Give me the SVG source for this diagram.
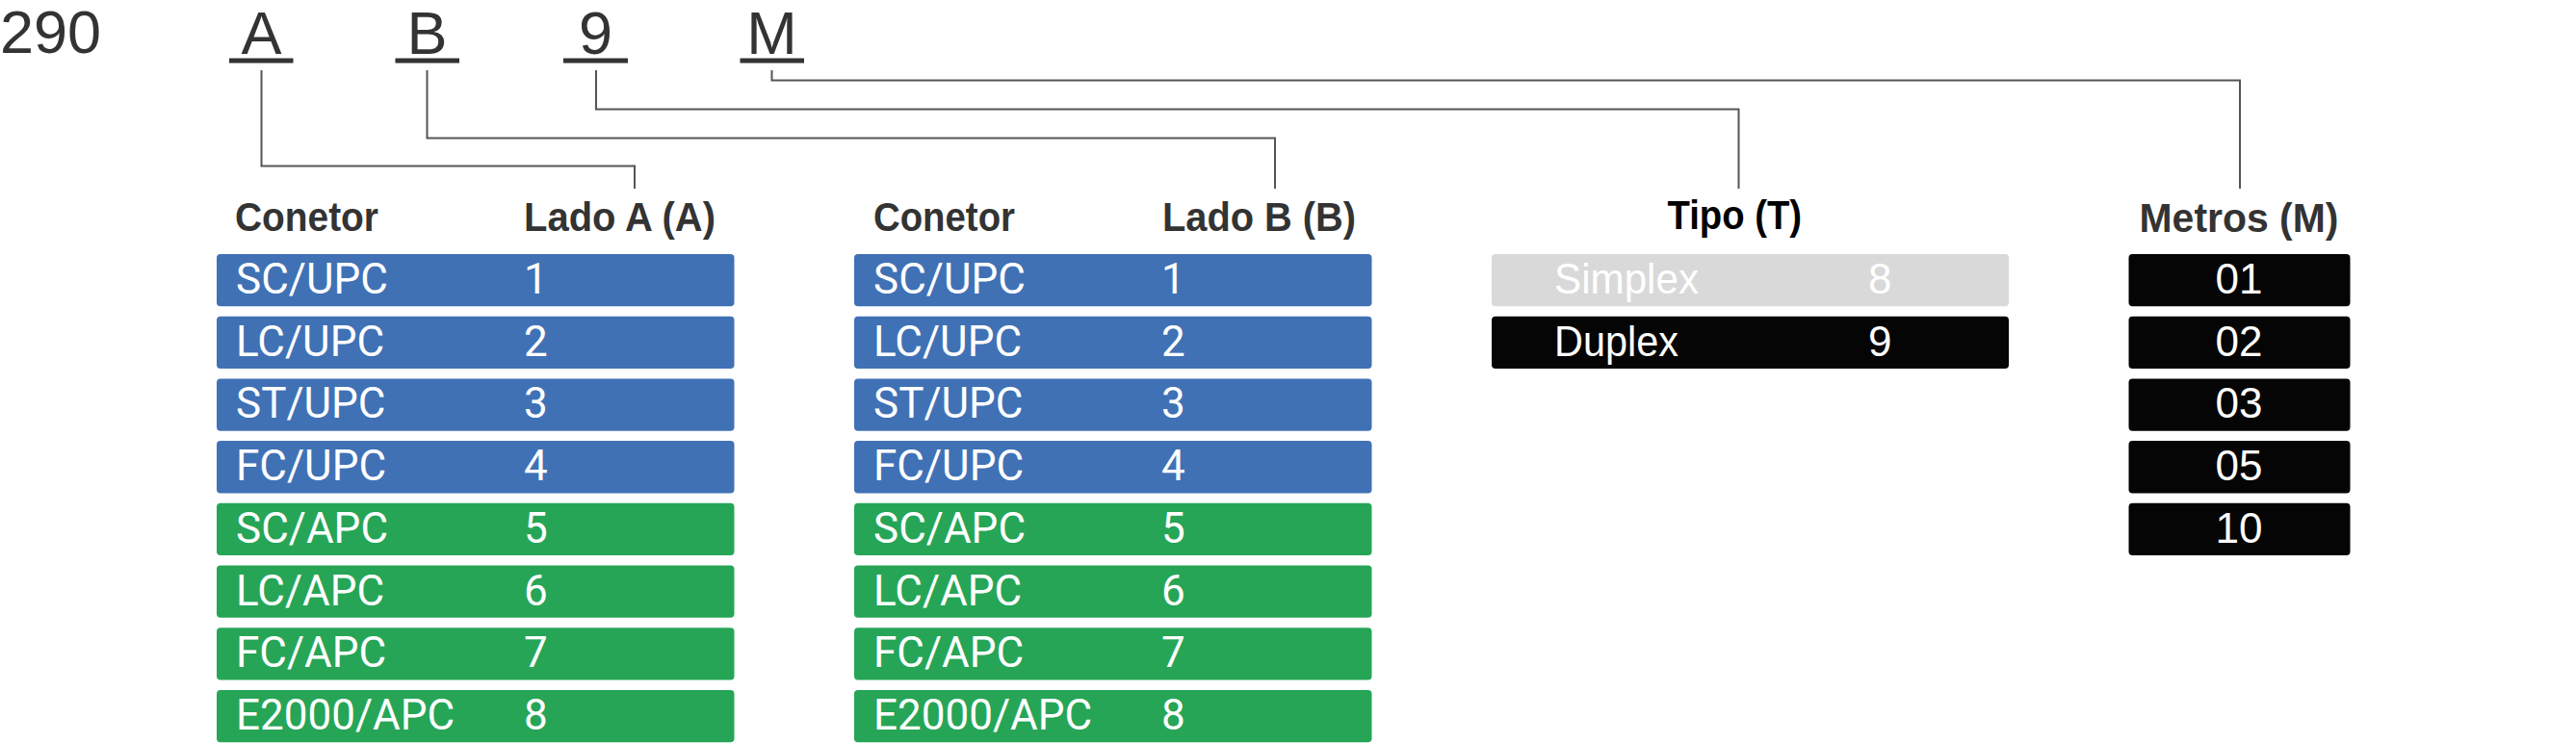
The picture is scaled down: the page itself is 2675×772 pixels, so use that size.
<svg xmlns="http://www.w3.org/2000/svg" width="2675" height="772" viewBox="0 0 2675 772">
<style>
.code{font-family:"Liberation Sans",Arial,sans-serif;font-size:63px;fill:#333333}
.ul{stroke:#333333;stroke-width:5;fill:none}
.conn{stroke:#555555;stroke-width:2;fill:none}
.hdr{font-family:"Liberation Sans",Arial,sans-serif;font-weight:bold;font-size:42px;fill:#333333}
.hdrk{fill:#000000}
.row{font-family:Roboto,"Liberation Sans",sans-serif;font-size:44px;fill:#ffffff}
.rowa{font-family:"Liberation Sans",Arial,sans-serif;font-size:44px;fill:#ffffff}
.blue{fill:#4071B5}
.green{fill:#26A557}
.grey{fill:#D9D9D9}
.black{fill:#050505}
</style>
<rect width="2675" height="772" fill="#ffffff"/>

<g id="code">
<text class="code" x="0" y="55">290</text>
<text class="code" x="271.5" y="56" text-anchor="middle">A</text>
<text class="code" x="443.5" y="56" text-anchor="middle">B</text>
<text class="code" x="618.5" y="56" text-anchor="middle">9</text>
<text class="code" x="801.5" y="56" text-anchor="middle">M</text>
<line class="ul" x1="238" y1="63" x2="304.5" y2="63"/>
<line class="ul" x1="410.5" y1="63" x2="477" y2="63"/>
<line class="ul" x1="585" y1="63" x2="652" y2="63"/>
<line class="ul" x1="768.5" y1="63" x2="835" y2="63"/>
</g>

<g id="connectors">
<path class="conn" d="M271.5,73 V172.5 H659 V196"/>
<path class="conn" d="M443.5,73 V143.5 H1324 V196"/>
<path class="conn" d="M619,73 V113.5 H1805.5 V196"/>
<path class="conn" d="M801.5,73 V83.5 H2326 V196"/>
</g>

<g id="ladoA">
<text class="hdr" x="244" y="240" textLength="149" lengthAdjust="spacingAndGlyphs">Conetor</text>
<text class="hdr" x="544" y="240" textLength="199" lengthAdjust="spacingAndGlyphs">Lado A (A)</text>
<rect class="blue" x="225" y="264" width="537.5" height="54.3" rx="4"/>
<rect class="blue" x="225" y="328.7" width="537.5" height="54.3" rx="4"/>
<rect class="blue" x="225" y="393.4" width="537.5" height="54.3" rx="4"/>
<rect class="blue" x="225" y="458.1" width="537.5" height="54.3" rx="4"/>
<rect class="green" x="225" y="522.8" width="537.5" height="54.3" rx="4"/>
<rect class="green" x="225" y="587.5" width="537.5" height="54.3" rx="4"/>
<rect class="green" x="225" y="652.2" width="537.5" height="54.3" rx="4"/>
<rect class="green" x="225" y="716.9" width="537.5" height="54.3" rx="4"/>
<text class="row" x="245" y="305">SC/UPC</text><text class="row" x="544" y="305">1</text>
<text class="row" x="245" y="369.7">LC/UPC</text><text class="row" x="544" y="369.7">2</text>
<text class="row" x="245" y="434.4">ST/UPC</text><text class="row" x="544" y="434.4">3</text>
<text class="row" x="245" y="499.1">FC/UPC</text><text class="row" x="544" y="499.1">4</text>
<text class="row" x="245" y="563.8">SC/APC</text><text class="row" x="544" y="563.8">5</text>
<text class="row" x="245" y="628.5">LC/APC</text><text class="row" x="544" y="628.5">6</text>
<text class="row" x="245" y="693.2">FC/APC</text><text class="row" x="544" y="693.2">7</text>
<text class="row" x="245" y="757.9">E2000/APC</text><text class="row" x="544" y="757.9">8</text>
</g>

<g id="ladoB">
<text class="hdr" x="907" y="240" textLength="147" lengthAdjust="spacingAndGlyphs">Conetor</text>
<text class="hdr" x="1207" y="240" textLength="201" lengthAdjust="spacingAndGlyphs">Lado B (B)</text>
<rect class="blue" x="887" y="264" width="537.5" height="54.3" rx="4"/>
<rect class="blue" x="887" y="328.7" width="537.5" height="54.3" rx="4"/>
<rect class="blue" x="887" y="393.4" width="537.5" height="54.3" rx="4"/>
<rect class="blue" x="887" y="458.1" width="537.5" height="54.3" rx="4"/>
<rect class="green" x="887" y="522.8" width="537.5" height="54.3" rx="4"/>
<rect class="green" x="887" y="587.5" width="537.5" height="54.3" rx="4"/>
<rect class="green" x="887" y="652.2" width="537.5" height="54.3" rx="4"/>
<rect class="green" x="887" y="716.9" width="537.5" height="54.3" rx="4"/>
<text class="row" x="907" y="305">SC/UPC</text><text class="row" x="1206" y="305">1</text>
<text class="row" x="907" y="369.7">LC/UPC</text><text class="row" x="1206" y="369.7">2</text>
<text class="row" x="907" y="434.4">ST/UPC</text><text class="row" x="1206" y="434.4">3</text>
<text class="row" x="907" y="499.1">FC/UPC</text><text class="row" x="1206" y="499.1">4</text>
<text class="row" x="907" y="563.8">SC/APC</text><text class="row" x="1206" y="563.8">5</text>
<text class="row" x="907" y="628.5">LC/APC</text><text class="row" x="1206" y="628.5">6</text>
<text class="row" x="907" y="693.2">FC/APC</text><text class="row" x="1206" y="693.2">7</text>
<text class="row" x="907" y="757.9">E2000/APC</text><text class="row" x="1206" y="757.9">8</text>
</g>

<g id="tipo">
<text class="hdr hdrk" x="1731.5" y="238" textLength="139.5" lengthAdjust="spacingAndGlyphs">Tipo (T)</text>
<rect class="grey" x="1549" y="264" width="537" height="54.3" rx="4"/>
<rect class="black" x="1549" y="328.7" width="537" height="54.3" rx="4"/>
<text class="rowa" x="1614" y="305" textLength="150" lengthAdjust="spacingAndGlyphs">Simplex</text>
<text class="rowa" x="1940" y="305">8</text>
<text class="rowa" x="1614" y="369.7" textLength="129" lengthAdjust="spacingAndGlyphs">Duplex</text>
<text class="rowa" x="1940" y="369.7">9</text>
</g>

<g id="metros">
<text class="hdr" x="2221.5" y="241" textLength="207" lengthAdjust="spacingAndGlyphs">Metros (M)</text>
<rect class="black" x="2210.5" y="264" width="230" height="54.3" rx="4"/>
<rect class="black" x="2210.5" y="328.7" width="230" height="54.3" rx="4"/>
<rect class="black" x="2210.5" y="393.4" width="230" height="54.3" rx="4"/>
<rect class="black" x="2210.5" y="458.1" width="230" height="54.3" rx="4"/>
<rect class="black" x="2210.5" y="522.8" width="230" height="54.3" rx="4"/>
<text class="rowa" x="2325" y="305" text-anchor="middle">01</text>
<text class="rowa" x="2325" y="369.7" text-anchor="middle">02</text>
<text class="rowa" x="2325" y="434.4" text-anchor="middle">03</text>
<text class="rowa" x="2325" y="499.1" text-anchor="middle">05</text>
<text class="rowa" x="2325" y="563.8" text-anchor="middle">10</text>
</g>
</svg>
